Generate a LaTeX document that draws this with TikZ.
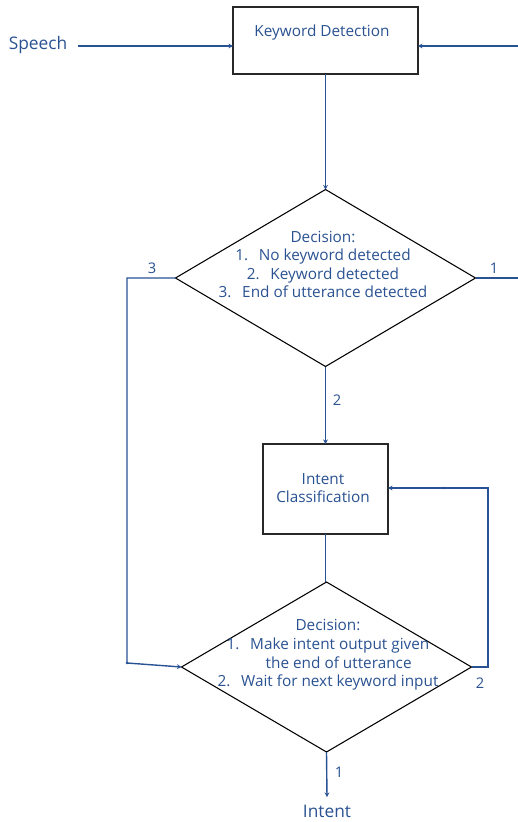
\documentclass[tikz,border=0pt]{standalone}
\usepackage{fontspec}
\setmainfont{Open Sans}
\usetikzlibrary{shapes.geometric,arrows.meta}
\definecolor{lineblue}{RGB}{40,82,148}
\definecolor{textblue}{RGB}{42,82,146}
\definecolor{boxgray}{RGB}{40,40,40}
\begin{document}
\begin{tikzpicture}[x=0.75pt,y=-0.75pt,
  box/.style={draw=boxgray,line width=1.2pt,fill=white,inner sep=0pt,outer sep=0pt},
  dia/.style={draw=black,line width=0.8pt,shape=diamond,inner sep=0pt,outer sep=0pt},
  txt/.style={text=textblue,font=\fontsize{11.5}{13.9}\selectfont,align=center,inner sep=0pt},
  big/.style={text=textblue,font=\fontsize{13}{15}\selectfont},
  lbl/.style={text=textblue,font=\fontsize{11}{12}\selectfont,inner sep=0pt},
  conn/.style={draw=lineblue,line width=1.05pt},
  arr/.style={conn,-{Stealth[length=3.4pt,width=3.6pt]}},
  jdot/.style={fill=lineblue,draw=none}
]
\useasboundingbox (0,0) rectangle (518,822);

% boxes and diamonds
\node[box,minimum width=185*0.75pt,minimum height=67*0.75pt] (kd) at (325.5,40.5) {};
\node[txt] (kdt) at (322,32.5) {Keyword Detection};
\node[dia,minimum width=300*0.75pt,minimum height=177*0.75pt] (d1) at (325.5,278) {};
\node[txt] (d1t) at (323,264.5) {Decision:\\1.\hspace{0.7em}No keyword detected\\2.\hspace{0.7em}Keyword detected\\3.\hspace{0.7em}End of utterance detected};
\node[box,minimum width=125*0.75pt,minimum height=90*0.75pt] (ic) at (325.5,489) {};
\node[txt] (ict) at (323,488) {Intent\\Classification};
\node[dia,minimum width=290*0.75pt,minimum height=170*0.75pt] (d2) at (326.5,667) {};
\node[txt] (d2t) at (328,655) {Decision:\\1.\hspace{0.7em}Make intent output given\\\hspace*{16pt}the end of utterance\\2.\hspace{0.7em}Wait for next keyword input};

% terminals
\node[big,inner xsep=10*0.75pt,inner ysep=0pt] (sp) at (38,45) {Speech};
\node[big,anchor=north,inner xsep=0pt,inner ysep=8*0.75pt] (in) at (327,797) {Intent};

% coordinates
\coordinate (spe) at (78,46);
\coordinate (rt) at (518,46);
\coordinate (rm) at (518,278);
\coordinate (l1) at (127,278);
\coordinate (l2) at (127,663);
\coordinate (r1) at (488,667);
\coordinate (r2) at (488,488);
\coordinate (rmid) at (444,488);

% connectors
\draw[arr] (spe) -- (kd.west |- spe);
\draw[arr] (rt) -- (kd.east |- rt);
\draw[arr] (kd.south) -- (d1.north);
\draw[conn] (d1.east) -- (rm);
\draw[arr] (d1.west) -- (l1) -- (l2) -- (d2.west);
\draw[arr] (d1.south) -- (ic.north);
\draw[conn] (ic.south) -- (ic.south |- d2.north);
\draw[arr] (d2.east) -- (r1) -- (r2) -- (ic.east |- r2);
\draw[arr] (d2.south) -- (in.north);
\fill[jdot] (l2) circle (1.4);
\fill[jdot] (rmid) circle (1.4);

% labels
\node[lbl] (n3) at (152,268) {3};
\node[lbl] (n1) at (494,268) {1};
\node[lbl] (n2a) at (337,400) {2};
\node[lbl] (n2b) at (480,683) {2};
\node[lbl] (n1b) at (339,772) {1};
\end{tikzpicture}
\end{document}
